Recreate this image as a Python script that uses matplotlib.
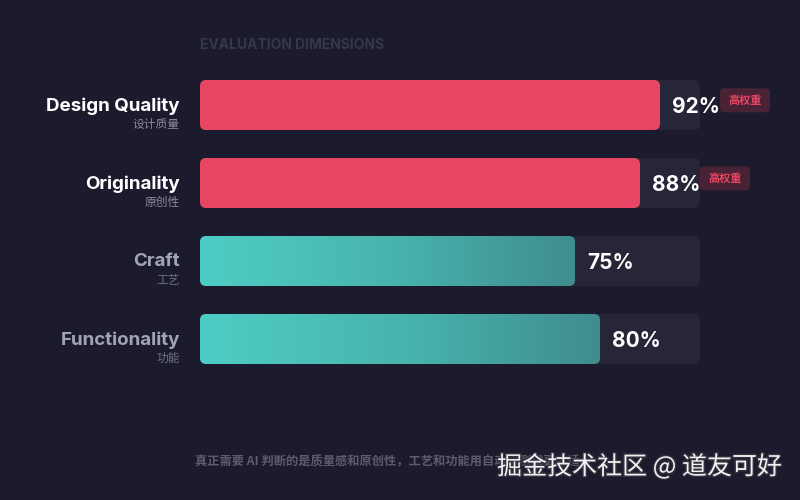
import numpy as np
import matplotlib.pyplot as plt
from matplotlib.patches import FancyBboxPatch
from matplotlib.colors import LinearSegmentedColormap
import matplotlib.patheffects as pe

plt.rcParams['font.family'] = ['Inter', 'Noto Sans CJK SC', 'DejaVu Sans']

# データ
labels_en = ['Design Quality', 'Originality', 'Craft', 'Functionality']
labels_zh = ['设计质量', '原创性', '工艺', '功能']
scores = [92, 88, 75, 80]
high_weight = [True, True, False, False]
badge_text = '高权重'
title = 'EVALUATION DIMENSIONS'
footnote = '真正需要 AI 判断的是质量感和原创性，工艺和功能用自动化测试更合适'
watermark = '掘金技术社区 @ 道友可好'

BG = '#1c1b2e'
TRACK = '#272638'
PINK = '#e84562'
CJK = ['Noto Sans CJK SC', 'DejaVu Sans']

fig = plt.figure(figsize=(8, 5), dpi=100)
fig.patch.set_facecolor(BG)

# 1 x unit = 5px, 1 row = 78px
ax = fig.add_axes([200 / 800, 1 - 378 / 500, 500 / 800, 312 / 500])
ax.set_xlim(0, 100)
ax.set_ylim(3.5, -0.5)
ax.axis('off')
ax.set_facecolor(BG)

aspect = 5 / 78
bar_h = 50 / 78
teal = LinearSegmentedColormap.from_list('teal', ['#4ecdc4', '#48b5ae', '#3f8d8e'])


def rbox(x, y, w, h, color, r=1.2, z=1):
    p = FancyBboxPatch((x, y - h / 2), w, h,
                       boxstyle=f'round,pad=0,rounding_size={r}',
                       mutation_aspect=aspect, fc=color, ec='none', zorder=z,
                       clip_on=False)
    ax.add_patch(p)
    return p


for i, (en, zh, v, hw) in enumerate(zip(labels_en, labels_zh, scores, high_weight)):
    # トラック
    rbox(0, i, 100, bar_h, TRACK, z=1)
    if hw:
        rbox(0, i, v, bar_h, PINK, z=2)
        name_c, sub_c = 'white', '#8a8a9c'
    else:
        p = rbox(0, i, v, bar_h, 'none', z=2)
        grad = np.linspace(0, 1, 256).reshape(1, -1)
        im = ax.imshow(grad, cmap=teal, aspect='auto', extent=(0, v, i + bar_h / 2, i - bar_h / 2),
                       zorder=2, interpolation='bilinear')
        im.set_clip_path(p)
        name_c, sub_c = '#a3a3b8', '#6e6e82'
    ax.set_xlim(0, 100)
    ax.set_ylim(3.5, -0.5)

    # ラベル
    ax.text(-4, i + 0.01, en, ha='right', va='center', color=name_c,
            fontsize=13.5, fontweight='bold', clip_on=False)
    ax.text(-4, i + 0.25, zh, ha='right', va='center', color=sub_c,
            fontsize=8.5, family=CJK, clip_on=False)

    # 値
    ax.text(v + 2.4, i + 0.03, f'{v}%', ha='left', va='center', color='white',
            fontsize=15, fontweight='bold', zorder=4)

    # バッジ
    if hw:
        bx = v + 12
        rbox(bx, i - 0.06, 10, 24 / 78, '#4a2235', r=0.8, z=3)
        ax.text(bx + 5, i - 0.06, badge_text, ha='center', va='center', color=PINK,
                fontsize=8, fontweight='bold', family=CJK, zorder=4, clip_on=False)

fig.text(200 / 800, 1 - 45 / 500, title, ha='left', va='center', color='#36364c',
         fontsize=10, fontweight='bold')
fig.text(195 / 800, 1 - 462 / 500, footnote, ha='left', va='center', color='#5c5c6e',
         fontsize=8.8, fontweight='bold', family=CJK)
fig.text(782 / 800, 1 - 467 / 500, watermark, ha='right', va='center', color='#f2f2f2',
         fontsize=18, family=CJK,
         path_effects=[pe.withStroke(linewidth=2, foreground='#333340')])

fig.savefig('out.png', dpi=100, facecolor=BG)
